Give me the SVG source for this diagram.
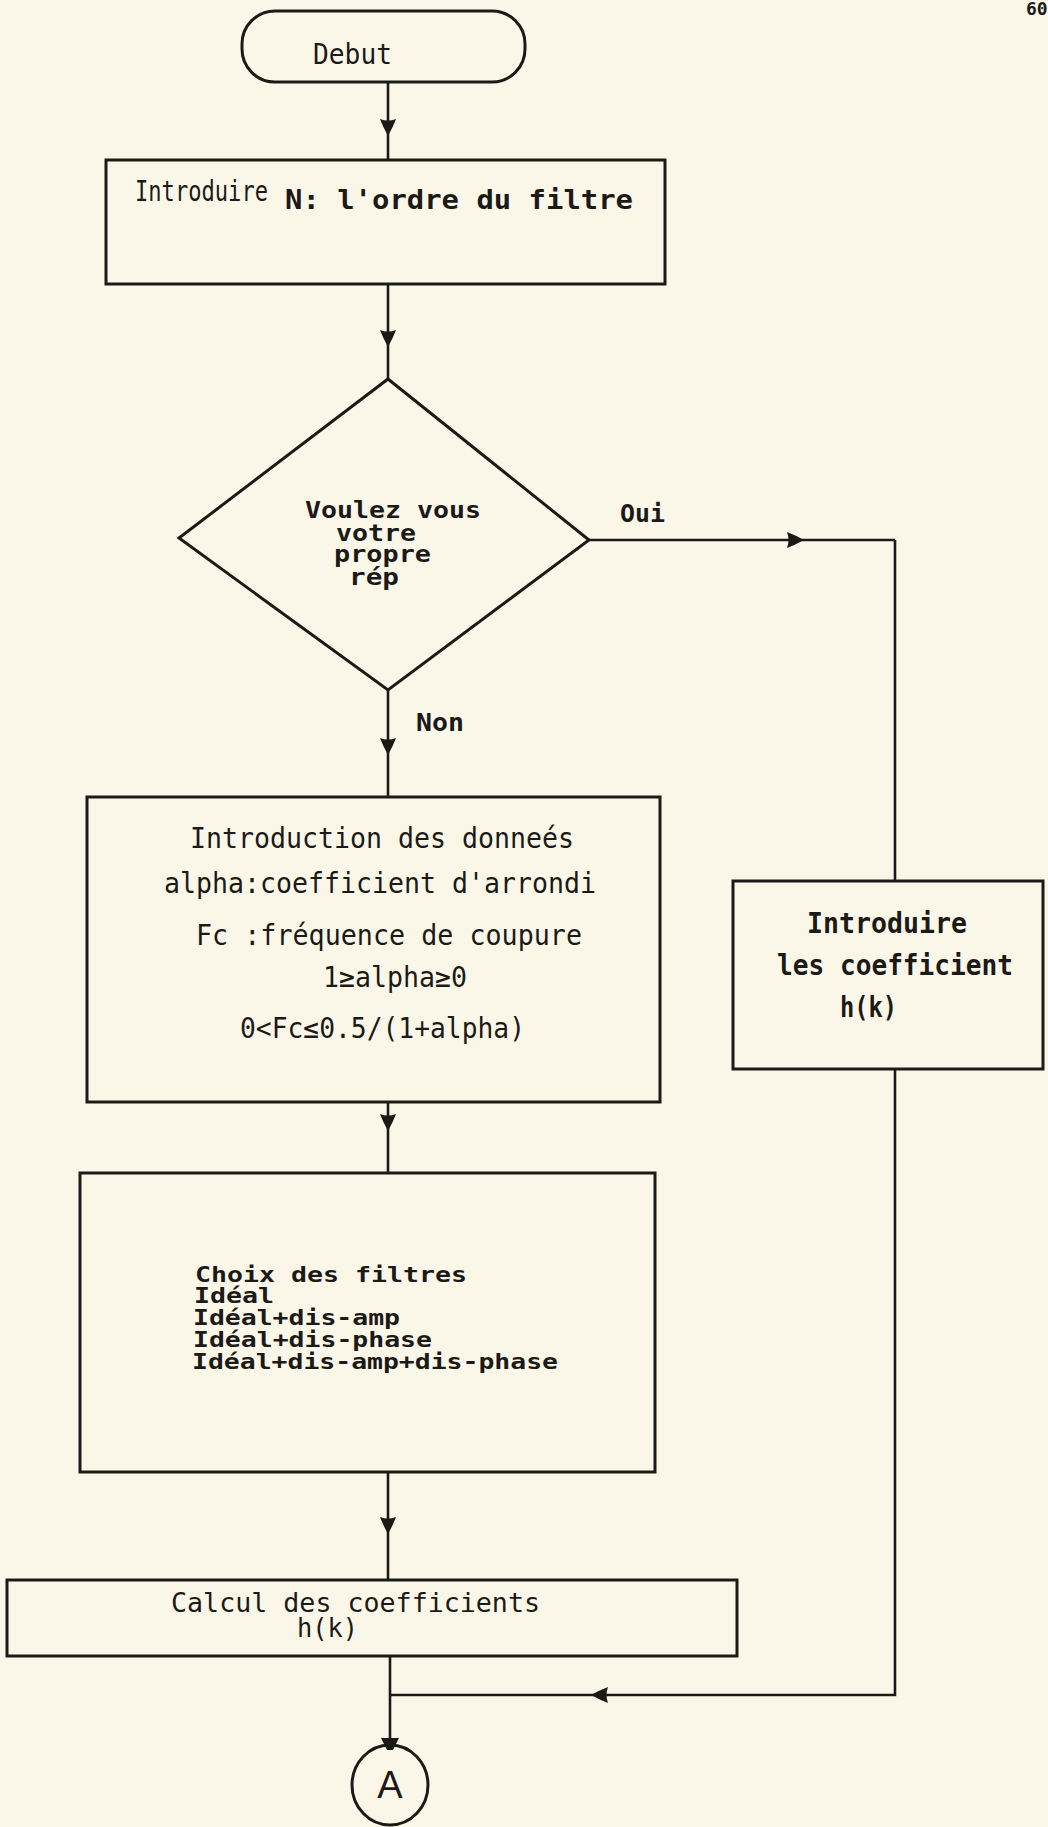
<svg xmlns="http://www.w3.org/2000/svg" width="1048" height="1827" viewBox="0 0 1048 1827">
<style>
.shape{fill:none;stroke:#1c1a17;stroke-width:3}
.conn{fill:none;stroke:#1c1a17;stroke-width:2.6}
.t{font-family:"DejaVu Sans Mono","Liberation Mono",monospace;fill:#1c1a17;font-size:29px}
.b{font-weight:bold}
.d{font-size:23px;font-weight:bold}
.o{font-size:25px;font-weight:bold}
.m{font-size:22px;font-weight:bold}
.c{font-size:26px}
</style>
<defs>
<marker id="ah" markerUnits="userSpaceOnUse" viewBox="-10 -9 20 18" refX="0" refY="0" markerWidth="20" markerHeight="18" orient="auto">
<path d="M-8,-8 Q0,-5 9,0 Q0,5 -8,8 Q-5,0 -8,-8 Z" fill="#1c1a17"/>
</marker>
<marker id="stub" markerUnits="userSpaceOnUse" viewBox="-8 -10 16 20" refX="0" refY="0" markerWidth="16" markerHeight="20" orient="auto">
<path d="M-6,-9 Q0,-6 6,-3 L6,3 Q0,6 -6,9 Z" fill="#1c1a17"/>
</marker>
</defs>
<rect width="1048" height="1827" fill="#fbf7e8"/>
<text class="t b" x="1026" y="15" style="font-size:18px">60</text>

<g id="connectors">
<path class="conn" d="M388,82 V127 V160" marker-mid="url(#ah)"/>
<path class="conn" d="M388,284 V338 V379" marker-mid="url(#ah)"/>
<path class="conn" d="M589,540 H795 H895" marker-mid="url(#ah)"/>
<path class="conn" d="M895,540 V881"/>
<path class="conn" d="M388,690 V746 V797" marker-mid="url(#ah)"/>
<path class="conn" d="M388,1102 V1122 V1173" marker-mid="url(#ah)"/>
<path class="conn" d="M388,1472 V1525 V1580" marker-mid="url(#ah)"/>
<path class="conn" d="M390,1656 V1744" marker-end="url(#stub)"/>
<path class="conn" d="M895,1069 V1695 H600"/>
<path class="conn" d="M600,1695 H390" marker-start="url(#ah)"/>
<text class="t o" x="620" y="522" textLength="45" lengthAdjust="spacingAndGlyphs">Oui</text>
<text class="t o" x="416" y="731" textLength="48" lengthAdjust="spacingAndGlyphs">Non</text>
</g>

<g id="debut">
<rect class="shape" x="242" y="11" width="283" height="71" rx="33"/>
<text class="t" x="313" y="64" textLength="79" lengthAdjust="spacingAndGlyphs">Debut</text>
</g>

<g id="introduire-n">
<rect class="shape" x="106" y="160" width="559" height="124"/>
<text class="t" x="135" y="201" textLength="133" lengthAdjust="spacingAndGlyphs">Introduire</text>
<text class="t b" x="285" y="209" style="font-size:27px" textLength="348" lengthAdjust="spacingAndGlyphs">N: l'ordre du filtre</text>
</g>

<g id="decision">
<polygon class="shape" points="388,379 589,540 388,690 179,538" stroke-width="2.6"/>
<text class="t d" x="305" y="518" textLength="176" lengthAdjust="spacingAndGlyphs">Voulez vous</text>
<text class="t d" x="336" y="541" textLength="80" lengthAdjust="spacingAndGlyphs">votre</text>
<text class="t d" x="334" y="562" textLength="97" lengthAdjust="spacingAndGlyphs">propre</text>
<text class="t d" x="349" y="585" textLength="50" lengthAdjust="spacingAndGlyphs">rép</text>
</g>

<g id="introduction">
<rect class="shape" x="87" y="797" width="573" height="305"/>
<text class="t" x="190" y="848" textLength="384" lengthAdjust="spacingAndGlyphs">Introduction des donneés</text>
<text class="t" x="164" y="893" textLength="432" lengthAdjust="spacingAndGlyphs">alpha:coefficient d'arrondi</text>
<text class="t" x="196" y="945" textLength="386" lengthAdjust="spacingAndGlyphs">Fc :fréquence de coupure</text>
<text class="t" x="323" y="987" textLength="144" lengthAdjust="spacingAndGlyphs">1≥alpha≥0</text>
<text class="t" x="240" y="1038" textLength="285" lengthAdjust="spacingAndGlyphs">0&lt;Fc≤0.5/(1+alpha)</text>
</g>

<g id="introduire-coef">
<rect class="shape" x="733" y="881" width="310" height="188" fill="#f2efe4"/>
<text class="t b" x="807" y="933" textLength="160" lengthAdjust="spacingAndGlyphs">Introduire</text>
<text class="t b" x="777" y="975" textLength="236" lengthAdjust="spacingAndGlyphs">les coefficient</text>
<text class="t b" x="840" y="1017" textLength="57" lengthAdjust="spacingAndGlyphs">h(k)</text>
</g>

<g id="choix">
<rect class="shape" x="80" y="1173" width="575" height="299"/>
<text class="t m" x="195" y="1282" textLength="272" lengthAdjust="spacingAndGlyphs">Choix des filtres</text>
<text class="t m" x="194" y="1303" textLength="80" lengthAdjust="spacingAndGlyphs">Idéal</text>
<text class="t m" x="193" y="1325" textLength="207" lengthAdjust="spacingAndGlyphs">Idéal+dis-amp</text>
<text class="t m" x="193" y="1347" textLength="239" lengthAdjust="spacingAndGlyphs">Idéal+dis-phase</text>
<text class="t m" x="192" y="1369" textLength="366" lengthAdjust="spacingAndGlyphs">Idéal+dis-amp+dis-phase</text>
</g>

<g id="calcul">
<rect class="shape" x="7" y="1580" width="730" height="76"/>
<text class="t c" x="171" y="1612" textLength="369" lengthAdjust="spacingAndGlyphs">Calcul des coefficients</text>
<text class="t c" x="297" y="1637" textLength="61" lengthAdjust="spacingAndGlyphs">h(k)</text>
</g>

<g id="connector-a">
<ellipse class="shape" cx="390" cy="1785" rx="38" ry="40" stroke-width="2.6"/>
<text x="390" y="1798" text-anchor="middle" font-family="Liberation Sans, Arial, sans-serif" font-size="38" fill="#1c1a17">A</text>
</g>
</svg>
